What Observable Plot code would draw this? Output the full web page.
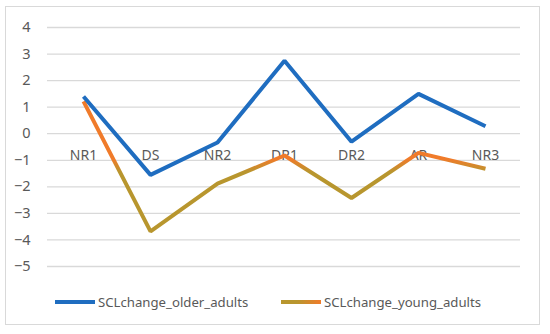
<!DOCTYPE html>
<html>
<head>
<meta charset="utf-8">
<script src="https://cdn.jsdelivr.net/npm/d3@7"></script>
<script src="https://cdn.jsdelivr.net/npm/@observablehq/plot@0.6"></script>
<style>
  html, body { margin: 0; padding: 0; background: #fff; }
  #wrap { position: relative; width: 550px; height: 334px; font-family: "Noto Sans", sans-serif; }
  #frame { position: absolute; left: 5px; top: 6px; width: 535px; height: 319px; border: 1px solid #d9d9d9; box-sizing: border-box; }
  #chart { position: absolute; left: 0; top: 0; }
  #legend { position: absolute; left: 0; top: 290px; width: 550px; height: 24px; font-size: 13.2px; color: #595959; }
  .item { position: absolute; top: 0; display: flex; align-items: center; height: 24px; }
  .swatch { display: inline-block; width: 40px; height: 4px; margin-right: 3px; }
</style>
</head>
<body>
<div id="wrap">
  <div id="frame"></div>
  <div id="chart"></div>
  <div id="legend">
    <div class="item" style="left:55px"><span class="swatch" style="background:#1f6dc0"></span><span>SCLchange_older_adults</span></div>
    <div class="item" style="left:281px"><span class="swatch" style="background:linear-gradient(to right,#b8962e,#b8962e 40%,#f07b2a)"></span><span>SCLchange_young_adults</span></div>
  </div>
</div>
<script>
const categories = ["NR1", "DS", "NR2", "DR1", "DR2", "AR", "NR3"];
const olderAdults = [1.4, -1.55, -0.33, 2.75, -0.3, 1.5, 0.28];
const youngAdults = [1.22, -3.68, -1.88, -0.82, -2.42, -0.72, -1.32];
const yTicks = [4, 3, 2, 1, 0, -1, -2, -3, -4, -5];

const older = categories.map((c, i) => ({cat: c, v: olderAdults[i]}));
const young = categories.map((c, i) => ({cat: c, v: youngAdults[i]}));

const chart = Plot.plot({
  width: 550,
  height: 285,
  marginTop: 27,
  marginBottom: 19,
  marginLeft: 47,
  marginRight: 30,
  style: {fontFamily: "Noto Sans, sans-serif", fontSize: "13.5px", color: "#595959", background: "transparent"},
  x: {type: "point", domain: categories, padding: 0.5, axis: null},
  y: {domain: [-5, 4], ticks: yTicks, label: null},
  marks: [
    Plot.ruleY(yTicks, {stroke: "#d9d9d9", strokeWidth: 1.3}),
    Plot.axisY({ticks: yTicks, tickSize: 0, tickPadding: 17, label: null, fill: "#595959", fontSize: 14.5}),
    Plot.text(categories, {x: d => d, y: 0, dy: 22, fill: "#595959", fontSize: 14}),
    Plot.line(young, {x: "cat", y: "v", stroke: "url(#youngGrad)", strokeWidth: 4, strokeLinejoin: "miter", strokeLinecap: "butt"}),
    Plot.line(older, {x: "cat", y: "v", stroke: "#1f6dc0", strokeWidth: 4, strokeLinejoin: "miter", strokeLinecap: "butt"})
  ]
});

const y = chart.scale("y");
const ns = "http://www.w3.org/2000/svg";
const defs = document.createElementNS(ns, "defs");
const grad = document.createElementNS(ns, "linearGradient");
grad.setAttribute("id", "youngGrad");
grad.setAttribute("gradientUnits", "userSpaceOnUse");
grad.setAttribute("x1", 0); grad.setAttribute("x2", 0);
grad.setAttribute("y1", y.apply(-0.95));
grad.setAttribute("y2", y.apply(-1.45));
[["0", "#f07b2a"], ["1", "#b8962e"]].forEach(([o, c]) => {
  const s = document.createElementNS(ns, "stop");
  s.setAttribute("offset", o); s.setAttribute("stop-color", c);
  grad.appendChild(s);
});
defs.appendChild(grad);
chart.insertBefore(defs, chart.firstChild);
document.getElementById("chart").appendChild(chart);
</script>
</body>
</html>
